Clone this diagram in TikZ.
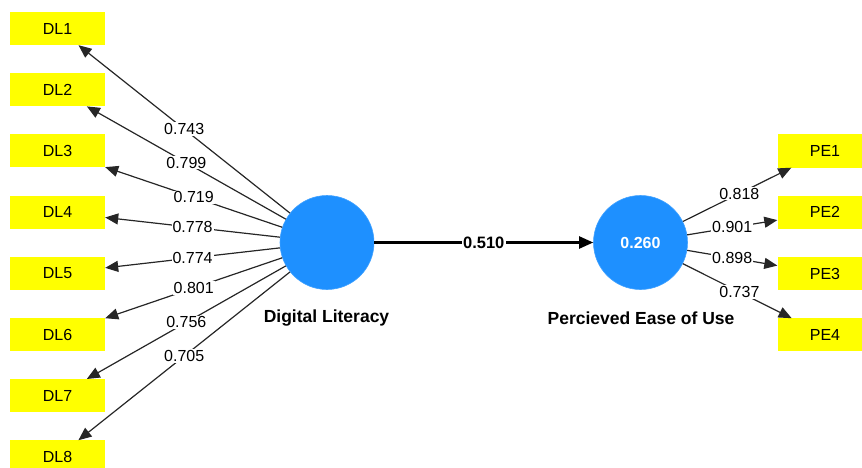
\documentclass[tikz,border=0pt]{standalone}
\usepackage{fontspec}
\setmainfont{Liberation Sans}
\usetikzlibrary{arrows.meta}
\definecolor{lvblue}{RGB}{30,144,255}
\definecolor{indyellow}{RGB}{255,255,0}
\begin{document}
\begin{tikzpicture}[x=1pt,y=-1pt,
  indicator/.style={fill=indyellow, minimum width=95pt, minimum height=33pt,
    inner sep=0pt, font=\fontsize{16}{19}\selectfont},
  latent/.style={circle, fill=lvblue, draw=lvblue!85!white, line width=0.6pt,
    minimum size=94pt, inner sep=0pt, text=white,
    font=\bfseries\fontsize{16}{19}\selectfont},
  lvname/.style={font=\bfseries\fontsize{17.5}{20}\selectfont},
  loading/.style={-{Triangle[length=13pt,width=11pt]}, line width=1.2pt, draw=black!85},
  coef/.style={fill=white, inner sep=1pt, font=\fontsize{16}{19}\selectfont},
  structural/.style={-{Triangle[length=14pt,width=12pt]}, line width=2.2pt, draw=black},
  coefbold/.style={fill=white, inner sep=1.5pt, font=\bfseries\fontsize{16.5}{19}\selectfont}
]
\useasboundingbox (0,0) rectangle (862,468);

% latent variables
\node[latent] (DL) at (327,242.5) {};
\node[latent] (PE) at (640.5,242.5) {0.260};
\node[lvname] (DLname) at (326.5,318) {Digital Literacy};
\node[lvname] (PEname) at (641,318) {Percieved Ease of Use};

% indicators of Digital Literacy
\foreach \i in {1,...,8}{
  \node[indicator] (dl\i) at (57.5,{28.5+61.2*(\i-1)}) {DL\i};
}
% indicators of Percieved Ease of Use
\foreach \i in {1,...,4}{
  \node[indicator] (pe\i) at (825,{151+61.3*(\i-1)}) {PE\i};
}

% outer loadings
\draw[loading] (DL) -- (dl1) node[coef,pos=0.5] {0.743};
\draw[loading] (DL) -- (dl2) node[coef,pos=0.5] {0.799};
\draw[loading] (DL) -- (dl3) node[coef,pos=0.5] {0.719};
\draw[loading] (DL) -- (dl4) node[coef,pos=0.5] {0.778};
\draw[loading] (DL) -- (dl5) node[coef,pos=0.5] {0.774};
\draw[loading] (DL) -- (dl6) node[coef,pos=0.5] {0.801};
\draw[loading] (DL) -- (dl7) node[coef,pos=0.5] {0.756};
\draw[loading] (DL) -- (dl8) node[coef,pos=0.5] {0.705};

\draw[loading] (PE) -- (pe1) node[coef,pos=0.52] {0.818};
\draw[loading] (PE) -- (pe2) node[coef,pos=0.5] {0.901};
\draw[loading] (PE) -- (pe3) node[coef,pos=0.5] {0.898};
\draw[loading] (PE) -- (pe4) node[coef,pos=0.52] {0.737};

% path coefficient
\draw[structural] (DL) -- (PE) node[coefbold,pos=0.5] {0.510};
\end{tikzpicture}
\end{document}
